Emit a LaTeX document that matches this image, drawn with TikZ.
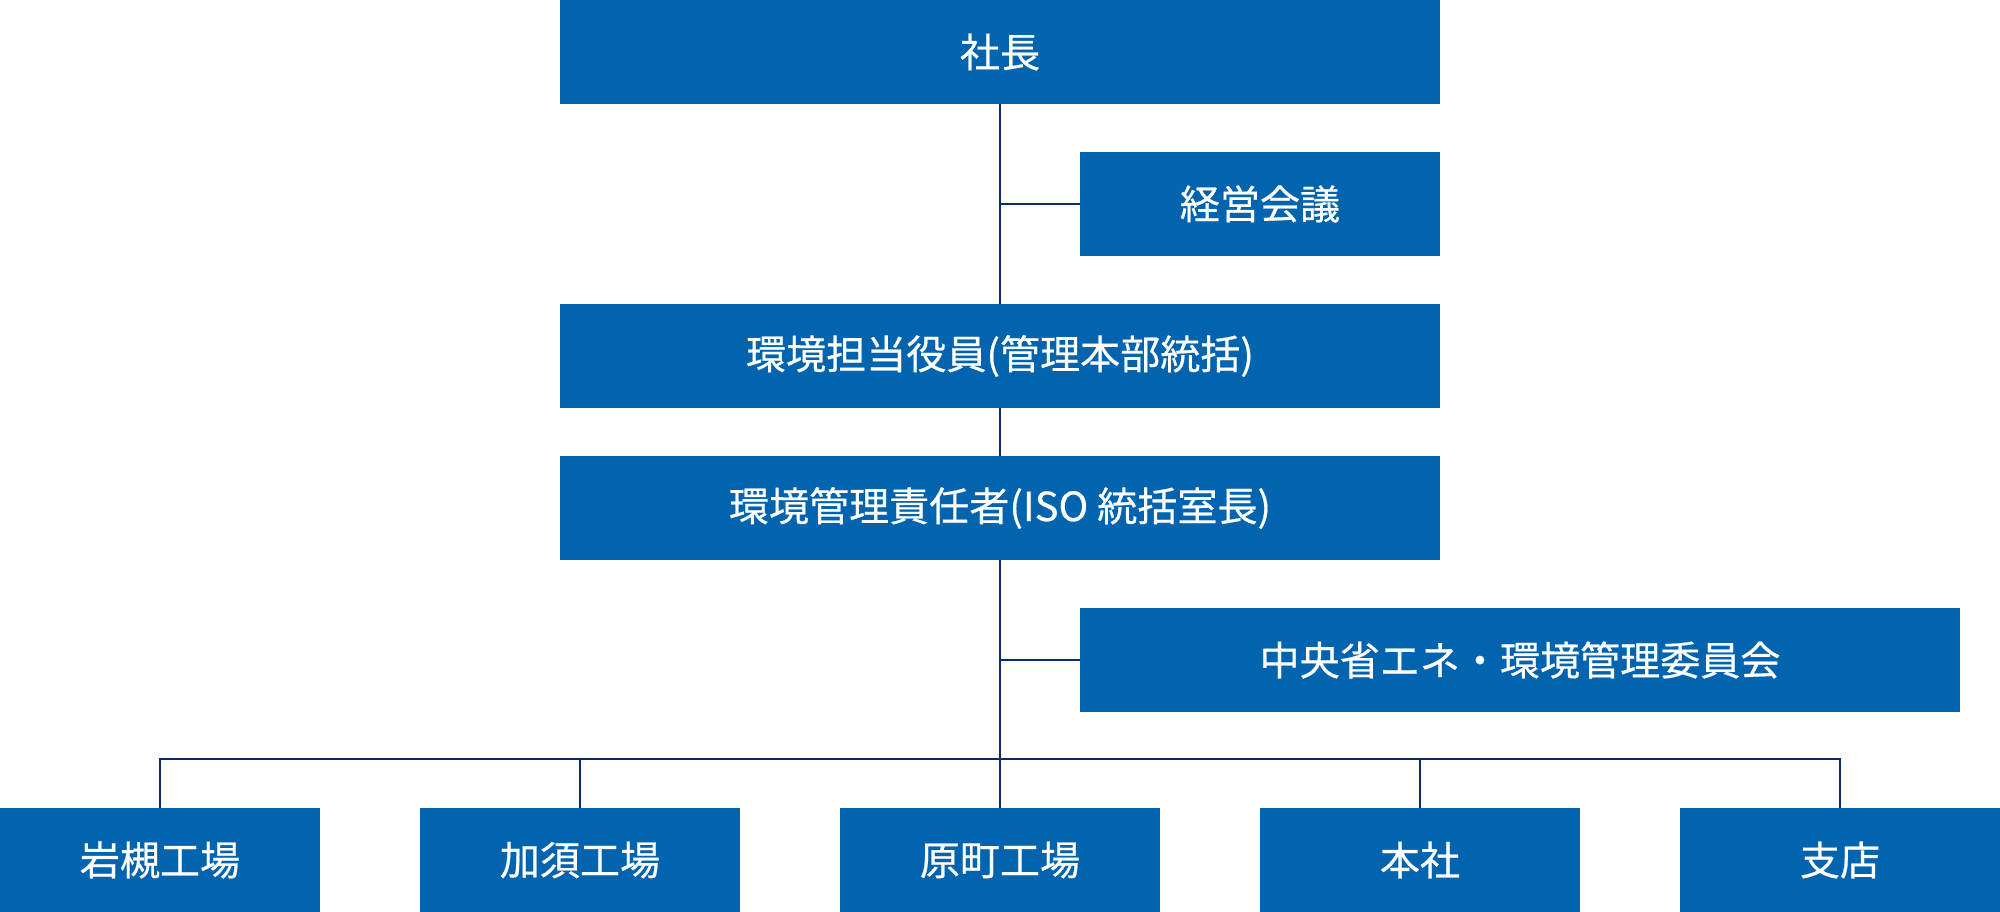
\documentclass[tikz,border=0pt]{standalone}
\usepackage{fontspec}
\newfontfamily\jpfont[FakeBold=0.5]{Noto Sans CJK JP}
\definecolor{orgblue}{RGB}{2,99,175}
\definecolor{orgline}{RGB}{12,40,110}
\usetikzlibrary{positioning}

\tikzset{
  unit/.style={fill=orgblue, text=white, inner sep=0pt, outer sep=0pt, minimum height=1.04cm, align=center, font=\jpfont\fontsize{11.4pt}{13pt}\selectfont},
  wide/.style={unit, minimum width=8.8cm},
  side/.style={unit, minimum width=3.6cm},
  site/.style={unit, minimum width=3.2cm},
  link/.style={draw=orgline, line width=0.6pt}
}

\begin{document}
\begin{tikzpicture}
  \useasboundingbox (0,0) rectangle (20,-9.12);
  \node[wide] (shacho) at (10,-0.52) {社長};
  \node[side, below=0.48cm of shacho.south east, anchor=north east] (keiei) {経営会議};
  \node[wide, below=2cm of shacho] (tanto) {環境担当役員(管理本部統括)};
  \node[wide, below=0.48cm of tanto] (sekinin) {環境管理責任者(ISO 統括室長)};
  \node[wide, anchor=north west] (iinkai) at (10.8,-6.08) {中央省エネ・環境管理委員会};
  \node[site, below=2.48cm of sekinin] (haramachi) {原町工場};
  \node[site, left=1cm of haramachi] (kazo) {加須工場};
  \node[site, left=1cm of kazo] (iwatsuki) {岩槻工場};
  \node[site, right=1cm of haramachi] (honsha) {本社};
  \node[site, right=1cm of honsha] (shiten) {支店};
  \coordinate[above=0.49cm of haramachi.north] (bus);

  \draw[link] (shacho) -- (tanto);
  \draw[link] (keiei.west) -- (shacho.south |- keiei.west);
  \draw[link] (tanto) -- (sekinin);
  \draw[link] (sekinin) -- (haramachi);
  \draw[link] (iinkai.west) -- (sekinin.south |- iinkai.west);
  \draw[link] (iwatsuki.north) |- (bus) -| (shiten.north);
  \foreach \n in {kazo,honsha}
    \draw[link] (\n.north) -- (\n.north |- bus);
\end{tikzpicture}
\end{document}
